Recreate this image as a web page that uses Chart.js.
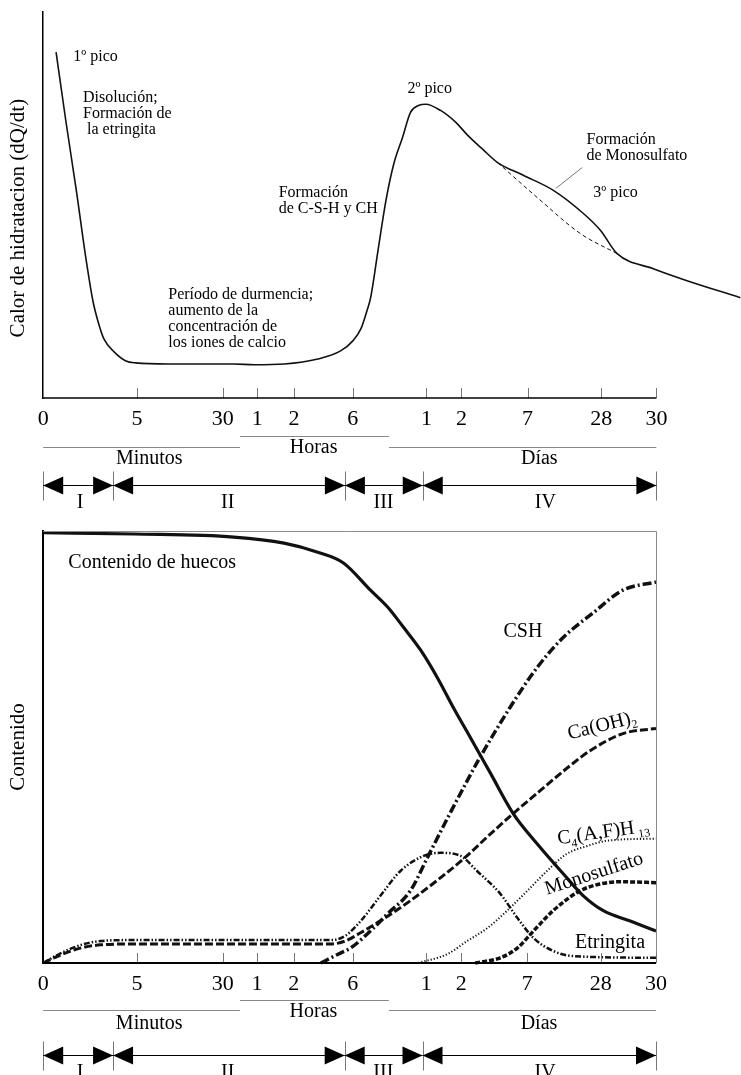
<!DOCTYPE html>
<html>
<head>
<meta charset="utf-8">
<script src="https://cdn.jsdelivr.net/npm/chart.js@4.4.0/dist/chart.umd.min.js"></script>
<style>
  html, body { margin: 0; padding: 0; background: #fff; }
  #wrap { position: relative; width: 741px; height: 1075px; overflow: hidden; }
  canvas { position: absolute; left: 0; }
  #cv-heat { top: 0; }
  #cv-phases { top: 520px; }
</style>
</head>
<body>
<div id="wrap">
  <canvas id="cv-heat" width="741" height="520"></canvas>
  <canvas id="cv-phases" width="741" height="555"></canvas>
</div>
<script>
/* ── eje de tiempo (escala pseudo-logarítmica, 0..100) ── */
const TICK_POS    = [0, 15.3, 29.3, 34.9, 40.9, 50.5, 62.5, 68.2, 79.0, 91.0, 100];
const TICK_LABELS = ['0', '5', '30', '1', '2', '6', '1', '2', '7', '28', '30'];

const UNIT_NAMES   = ['Minutos', 'Horas', 'Días'];
const UNIT_BOUNDS  = [0, 32.1, 56.4, 100];
const UNIT_LABEL_X = [17.3, 44.1, 80.9];

const STAGE_NAMES   = ['I', 'II', 'III', 'IV'];
const STAGE_BOUNDS  = [0, 11.4, 49.2, 61.9, 100];
const STAGE_LABEL_X = [6.0, 30.1, 55.5, 81.9];

/* ── calor de hidratación ── */
const HEAT_X = [2.1, 3.7, 5.4, 7.0, 8.1, 9.0, 9.9, 11.6, 13.5, 15.1, 20.4, 25.7, 31.1, 34.4, 39.3, 44.8, 48.5, 50.5, 51.8, 52.8,
                53.4, 54.6, 55.9, 57.2, 58.6, 59.9, 61.2, 62.4, 64.8, 67.3, 69.2, 71.7, 74.1, 78.3, 83.2, 88.1, 90.9, 93.6, 99.5, 105.0, 113.7];
const HEAT_Y = [89.6, 71.7, 53.8, 35.8, 25.2, 19.5, 15.3, 11.9, 9.6, 9.1, 8.8, 8.8, 8.8, 8.6, 8.8, 10.1, 12.2, 14.8, 17.9, 22.6,
                26.0, 38.2, 51.2, 60.8, 67.5, 74.0, 75.8, 76.1, 74.5, 71.4, 68.1, 64.4, 61.0, 57.7, 53.8, 47.8, 43.4, 37.4, 33.5, 30.4, 26.0];
/* curva sin el 3er pico (discontinua) */
const HEAT_BASE_X = [74.1, 80.6, 87.6, 93.6];
const HEAT_BASE_Y = [61.0, 51.9, 42.6, 37.4];

/* ── contenido de fases ── */
const HUECOS_X = [0, 14.8, 31.1, 39.3, 44.8, 49.0, 53.4, 56.2, 58.8, 61.6, 64.3, 66.9, 69.7, 73.0, 76.7, 80.6, 84.9, 88.1, 91.4, 95.8, 100];
const HUECOS_Y = [99.6, 99.3, 98.6, 97.2, 95.1, 92.6, 86.3, 82.4, 77.7, 72.4, 66.1, 59.2, 52.2, 43.9, 34.6, 27.6, 20.6, 15.6, 12.1, 9.7, 7.4];

const CSH_X = [45.3, 48.5, 50.2, 53.9, 56.2, 59.9, 62.7, 66.0, 69.2, 71.0, 76.2, 80.6, 84.9, 89.7, 94.6, 100];
const CSH_Y = [0, 2.3, 3.5, 8.1, 11.4, 16.7, 24.4, 33.6, 42.2, 46.9, 59.2, 68.4, 75.4, 81.0, 86.3, 88.2];

const CAOH_X = [0, 2.9, 6.2, 9.4, 14.3, 46.9, 49.3, 51.8, 55.5, 59.9, 64.8, 68.6, 73.0, 76.7, 81.1, 86.0, 89.3, 94.6, 100];
const CAOH_Y = [0, 1.9, 3.5, 4.2, 4.4, 4.4, 5.1, 7.0, 10.2, 14.4, 19.7, 24.1, 29.9, 34.6, 39.9, 45.7, 49.2, 53.1, 54.3];

const C4AF_X = [61.2, 66.0, 69.2, 72.5, 75.7, 79.0, 82.2, 85.5, 88.8, 92.0, 100];
const C4AF_Y = [0, 2.1, 5.1, 8.1, 12.1, 16.7, 21.3, 25.3, 27.1, 28.3, 28.8];

const MONO_X = [70.5, 74.6, 77.4, 80.0, 83.2, 87.6, 90.9, 94.1, 100];
const MONO_Y = [0, 1.2, 3.5, 7.4, 12.1, 16.7, 18.3, 18.8, 18.6];

const ETR_X = [0, 2.9, 6.2, 9.4, 14.3, 46.9, 49.3, 51.8, 55.0, 58.3, 62.1, 64.8, 68.1, 70.8, 74.6, 77.4, 80.0, 83.2, 86.5, 100];
const ETR_Y = [0, 2.3, 4.2, 5.1, 5.3, 5.3, 6.3, 9.7, 15.5, 21.3, 24.8, 25.5, 24.8, 21.3, 16.0, 10.4, 5.8, 2.8, 1.6, 1.2];

/* ── textos ── */
const HEAT_NOTES = [
  { lines: ['1º pico'], u: 4.9, v: 88.3 },
  { lines: ['Disolución;', 'Formación de', ' la etringita'], u: 6.5, v: 77.7 },
  { lines: ['Formación', 'de C-S-H y CH'], u: 38.4, v: 53.2 },
  { lines: ['Período de durmencia;', 'aumento de la', 'concentración de', 'los iones de calcio'], u: 20.4, v: 26.8 },
  { lines: ['2º pico'], u: 59.4, v: 80.0 },
  { lines: ['Formación', 'de Monosulfato'], u: 88.6, v: 66.8 },
  { lines: ['3º pico'], u: 89.7, v: 53.2 },
];
const PHASE_NOTES = [
  { parts: [['Contenido de huecos']], u: 4.1, v: 92.6, align: 'left', rot: 0 },
  { parts: [['CSH']], u: 75.1, v: 76.6, align: 'left', rot: 0 },
  { parts: [['Ca(OH)'], ['2', 1]], u: 91.2, v: 54.9, align: 'center', rot: -14 },
  { parts: [['C'], ['4', 1], ['(A,F)H'], [' 13', 1]], u: 91.4, v: 30.2, align: 'center', rot: -8 },
  { parts: [['Monosulfato']], u: 89.9, v: 20.6, align: 'center', rot: -18 },
  { parts: [['Etringita']], u: 92.5, v: 4.6, align: 'center', rot: 0 },
];

const SERIF = "'Liberation Serif', 'Times New Roman', serif";
const INK = '#111';

function pts(xs, ys) { return xs.map((x, i) => ({ x, y: ys[i] })); }
function font(size) { return `${size}px ${SERIF}`; }

/* ── decoración: ejes, marcas, escalas de tiempo y etapas ── */
const decor = {
  id: 'decor',
  afterDraw(chart, args, o) {
    const { ctx, chartArea: a, scales: { x, y } } = chart;
    const X = v => x.getPixelForValue(v);
    const Y = v => y.getPixelForValue(v);
    const base = a.bottom;
    ctx.save();

    if (o.frame) {
      ctx.strokeStyle = '#8a8a8a'; ctx.lineWidth = 1;
      ctx.beginPath();
      ctx.moveTo(a.left, Math.round(a.top) + 0.5);
      ctx.lineTo(Math.round(a.right) + 0.5, Math.round(a.top) + 0.5);
      ctx.lineTo(Math.round(a.right) + 0.5, base);
      ctx.stroke();
    }

    /* marcas hacia dentro */
    ctx.strokeStyle = '#777'; ctx.lineWidth = 1;
    TICK_POS.slice(1).forEach(v => {
      const px = Math.round(X(v)) + 0.5;
      ctx.beginPath(); ctx.moveTo(px, base); ctx.lineTo(px, base - 10); ctx.stroke();
    });

    /* eje x */
    ctx.strokeStyle = '#000'; ctx.lineWidth = o.axisWidth;
    ctx.beginPath(); ctx.moveTo(a.left - o.axisWidth / 2, base); ctx.lineTo(X(100), base); ctx.stroke();

    /* Minutos / Horas / Días */
    ctx.strokeStyle = '#888'; ctx.lineWidth = 1;
    UNIT_NAMES.forEach((n, i) => {
      const ly = Math.round(base + (i === 1 ? o.hourLine : o.unitLine)) + 0.5;
      ctx.beginPath(); ctx.moveTo(X(UNIT_BOUNDS[i]), ly); ctx.lineTo(X(UNIT_BOUNDS[i + 1]), ly); ctx.stroke();
    });
    ctx.fillStyle = '#000'; ctx.font = font(20);
    ctx.textAlign = 'center'; ctx.textBaseline = 'middle';
    UNIT_NAMES.forEach((n, i) => {
      ctx.fillText(n, X(UNIT_LABEL_X[i]), base + (i === 1 ? o.hourText : o.unitText));
    });

    /* etapas I..IV */
    const ay = Math.round(base + o.arrow) + 0.5;
    ctx.strokeStyle = '#777';
    STAGE_BOUNDS.forEach(b => {
      const px = Math.round(X(b)) + 0.5;
      ctx.beginPath(); ctx.moveTo(px, ay - 14); ctx.lineTo(px, ay + 15); ctx.stroke();
    });
    ctx.strokeStyle = '#000';
    const tri = (tx, dir) => {
      ctx.beginPath(); ctx.moveTo(tx, ay); ctx.lineTo(tx + dir * 20, ay - 9); ctx.lineTo(tx + dir * 20, ay + 9);
      ctx.closePath(); ctx.fill();
    };
    STAGE_NAMES.forEach((n, i) => {
      const x0 = X(STAGE_BOUNDS[i]), x1 = X(STAGE_BOUNDS[i + 1]);
      ctx.beginPath(); ctx.moveTo(x0, ay); ctx.lineTo(x1, ay); ctx.stroke();
      tri(x0, 1); tri(x1, -1);
      ctx.fillText(n, X(STAGE_LABEL_X[i]), ay + o.roman);
    });

    /* notas */
    ctx.textAlign = 'left';
    (o.notes || []).forEach(nt => {
      ctx.font = font(16);
      nt.lines.forEach((l, k) => ctx.fillText(l, X(nt.u), Y(nt.v) + k * 16));
    });
    if (o.pointer) {
      ctx.strokeStyle = '#777'; ctx.lineWidth = 1;
      ctx.beginPath(); ctx.moveTo(X(o.pointer[0]), Y(o.pointer[1])); ctx.lineTo(X(o.pointer[2]), Y(o.pointer[3])); ctx.stroke();
    }
    (o.richNotes || []).forEach(nt => {
      ctx.save();
      ctx.translate(X(nt.u), Y(nt.v));
      ctx.rotate(nt.rot * Math.PI / 180);
      let w = 0;
      nt.parts.forEach(p => { ctx.font = font(p[1] ? 12 : 20); w += ctx.measureText(p[0]).width; });
      let cx = nt.align === 'center' ? -w / 2 : 0;
      ctx.textAlign = 'left';
      nt.parts.forEach(p => {
        ctx.font = font(p[1] ? 12 : 20);
        ctx.fillText(p[0], cx, p[1] ? 7 : 0);
        cx += ctx.measureText(p[0]).width;
      });
      ctx.restore();
    });
    ctx.restore();
  }
};

function xScale(max) {
  return {
    type: 'linear', min: 0, max,
    afterBuildTicks: s => { s.ticks = TICK_POS.map(v => ({ value: v })); },
    ticks: {
      autoSkip: false, maxRotation: 0, padding: 8, color: '#000',
      font: { family: SERIF, size: 22 },
      callback: (v, i) => TICK_LABELS[i],
    },
    grid: { display: false, drawTicks: false },
    border: { display: false },
  };
}

function yScale(title, w) {
  return {
    type: 'linear', min: 0, max: 100,
    ticks: { display: false },
    grid: { display: false, drawTicks: false },
    border: { display: true, color: '#000', width: w },
    title: { display: true, text: title, color: '#000', font: { family: SERIF, size: 21 }, padding: { top: 6, bottom: 12 } },
  };
}

function line(data, width, dash) {
  return {
    data, showLine: true, borderColor: INK, borderWidth: width, borderDash: dash || [],
    pointRadius: 0, cubicInterpolationMode: 'monotone', clip: false, fill: false,
  };
}

const common = {
  responsive: false,
  animation: false,
  events: [],
  plugins: { legend: { display: false }, tooltip: { enabled: false } },
};

new Chart(document.getElementById('cv-heat'), {
  type: 'scatter',
  data: {
    datasets: [
      line(pts(HEAT_X, HEAT_Y), 1.6),
      line(pts(HEAT_BASE_X, HEAT_BASE_Y), 1, [4, 3]),
    ],
  },
  options: {
    ...common,
    layout: { padding: { top: 12, left: 0, right: 0, bottom: 79.6 } },
    scales: { x: xScale(113.8), y: yScale('Calor de hidratacion (dQ/dt)\u00a0\u00a0\u00a0\u00a0\u00a0', 1.5) },
    plugins: {
      ...common.plugins,
      decor: {
        axisWidth: 1.5, hourLine: 38, unitLine: 49, hourText: 50, unitText: 61, arrow: 87, roman: 17,
        notes: HEAT_NOTES, pointer: [83.6, 54.3, 87.9, 59.7],
      },
    },
  },
  plugins: [decor],
});

new Chart(document.getElementById('cv-phases'), {
  type: 'scatter',
  data: {
    datasets: [
      line(pts(HUECOS_X, HUECOS_Y), 3.2),
      line(pts(CSH_X, CSH_Y), 3.5, [9, 3, 2, 3]),
      line(pts(CAOH_X, CAOH_Y), 3, [8, 3]),
      line(pts(C4AF_X, C4AF_Y), 2, [1.2, 2]),
      line(pts(MONO_X, MONO_Y), 3.5, [5, 2]),
      line(pts(ETR_X, ETR_Y), 2.5, [6, 2, 1.5, 2, 1.5, 2]),
    ],
  },
  options: {
    ...common,
    layout: { padding: { top: 11, left: 0, right: 85, bottom: 69.6 } },
    scales: { x: xScale(100), y: yScale('Contenido', 2) },
    plugins: {
      ...common.plugins,
      decor: {
        axisWidth: 2, frame: true, hourLine: 37, unitLine: 47, hourText: 49, unitText: 61, arrow: 92, roman: 17,
        richNotes: PHASE_NOTES,
      },
    },
  },
  plugins: [decor],
});
</script>
</body>
</html>
